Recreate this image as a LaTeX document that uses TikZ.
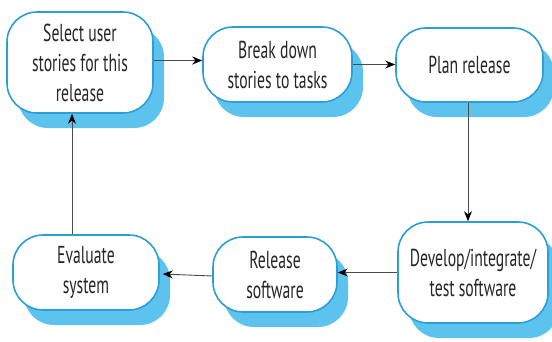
\documentclass[tikz,border=0pt]{standalone}
\usepackage{fontspec}
\setmainfont[FakeStretch=0.64]{PT Sans}
\usetikzlibrary{arrows.meta,shadows}
\definecolor{boxblue}{HTML}{2A9FD6}
\definecolor{shadowblue}{HTML}{5CC3EE}
\definecolor{linegray}{HTML}{4A4A4A}
\tikzset{
  stage/.style={draw=boxblue, line width=1.6pt, fill=white, rounded corners=30pt,
    align=center, font=\fontsize{24.5}{30}\selectfont, text=black!85, inner sep=0pt,
    general shadow={fill=shadowblue, shadow xshift=11pt, shadow yshift=-15pt}},
  arr/.style={draw=linegray, line width=0.9pt, -{Stealth[length=10pt,width=8pt,color=black]}}
}
\begin{document}
\begin{tikzpicture}[x=1pt,y=-1pt]
\useasboundingbox (0,0) rectangle (552,341);
\node[stage, minimum width=146pt, minimum height=101pt] (B1) at (80,62.5) {Select user\\stories for this\\release};
\node[stage, minimum width=149pt, minimum height=75pt] (B2) at (277.5,64.5) {Break down\\stories to tasks};
\node[stage, minimum width=147pt, minimum height=74pt] (B3) at (469.5,65) {Plan release};
\node[stage, minimum width=150pt, minimum height=101pt] (B6) at (473,272.5) {Develop/integrate/\\test software};
\node[stage, minimum width=124pt, minimum height=75pt] (B5) at (275,274.5) {Release\\software};
\node[stage, minimum width=146pt, minimum height=75pt] (B4) at (86,272.5) {Evaluate\\system};
\draw[arr] ([yshift=2pt]B1.east) -- ([yshift=2pt]B1.east -| B2.west);
\draw[arr] (B2.east) -- (B2.east -| B3.west);
\draw[arr] ([xshift=-1.5pt]B3.south) -- ([xshift=-1.5pt]B3.south |- B6.north);
\draw[arr] (B6.west) -- (B6.west -| B5.east);
\draw[arr] ([yshift=-1.5pt]B5.west) -- ([xshift=3pt,yshift=-1.5pt]B4.east);
\draw[arr] ([xshift=-14pt]B4.north) -- ([xshift=-14pt]B4.north |- B1.south);
\end{tikzpicture}
\end{document}
